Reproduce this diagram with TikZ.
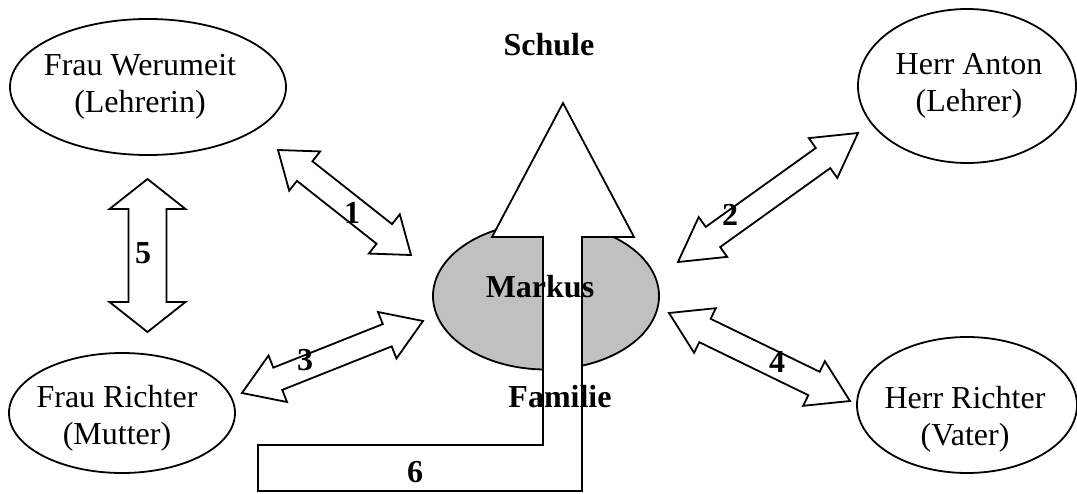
\documentclass[tikz,border=0pt]{standalone}
\usepackage{fontspec}
\setmainfont{Liberation Serif}
\usetikzlibrary{shapes.geometric,calc}

% #1 start, #2 end, #3 head length, #4 head half width, #5 shaft half width
\newcommand\dblarrow[5]{%
\draw [blockarr] (#1) -- ($(#1)!#3!(#2)!#4!90:(#2)$) -- ($(#1)!#3!(#2)!#5!90:(#2)$)
  -- ($(#2)!#3!(#1)!#5!90:(#2)$) -- ($(#2)!#3!(#1)!#4!90:(#2)$) -- (#2)
  -- ($(#2)!#3!(#1)!#4!-90:(#2)$) -- ($(#2)!#3!(#1)!#5!-90:(#2)$)
  -- ($(#1)!#3!(#2)!#5!-90:(#2)$) -- ($(#1)!#3!(#2)!#4!-90:(#2)$) -- cycle;}

\begin{document}
\begin{tikzpicture}[x=5pt,y=5pt,
  every node/.style={inner sep=0pt},
  person/.style={draw,ellipse,line width=0.9pt},
  txt/.style={align=center,font=\fontsize{16}{18.5}\selectfont},
  lbl/.style={font=\fontsize{16}{18.5}\selectfont\bfseries},
  blockarr/.style={draw,line width=0.9pt,fill=white,line join=miter}]
\useasboundingbox (0,0) rectangle (107.7,-49.3);
\node [person,minimum width=138pt,minimum height=68pt] (werumeit) at (14.8,-8.7) {};
\node [txt] (werumeit-t) at (14.0,-8.7) {Frau Werumeit\\(Lehrerin)};
\node [person,minimum width=109pt,minimum height=77pt] (anton) at (96.7,-8.6) {};
\node [txt] (anton-t) at (96.9,-8.6) {Herr Anton\\(Lehrer)};
\node [person,minimum width=113pt,minimum height=60pt] (mutter) at (12.2,-41.3) {};
\node [txt] (mutter-t) at (11.7,-41.8) {Frau Richter\\(Mutter)};
\node [person,minimum width=110pt,minimum height=68pt] (vater) at (96.7,-40.5) {};
\node [txt] (vater-t) at (96.5,-41.9) {Herr Richter\\(Vater)};
\node [person,fill={rgb,255:red,192;green,192;blue,192},minimum width=113pt,minimum height=73.5pt] (markus) at (54.6,-29.6) {};
\draw [blockarr] (49.2,-23.7) -- (56.3,-10.3) -- (63.4,-23.7) -- (58.2,-23.7) -- (58.2,-49.1)
  -- (25.8,-49.1) -- (25.8,-44.5) -- (54.3,-44.5) -- (54.3,-23.7) -- cycle;
\node [lbl] (markus-t) at (54.0,-28.7) {Markus};
\node [lbl] (schule) at (54.9,-4.5) {Schule};
\node [lbl] (familie) at (56.0,-39.7) {Familie};
\node [lbl] (l6) at (41.5,-47.2) {6};
\coordinate (a1s) at (27.8,-15.0);
\coordinate (a1e) at (41.1,-25.5);
\coordinate (a2s) at (85.8,-13.3);
\coordinate (a2e) at (67.8,-26.2);
\coordinate (a3s) at (24.2,-39.3);
\coordinate (a3e) at (42.3,-32.1);
\coordinate (a4s) at (66.9,-31.3);
\coordinate (a4e) at (85.0,-40.1);
\coordinate (a5s) at (14.75,-17.9);
\coordinate (a5e) at (14.75,-33.2);
\dblarrow{a1s}{a1e}{17pt}{12.5pt}{6.25pt}
\dblarrow{a2s}{a2e}{21.5pt}{12.25pt}{6.2pt}
\dblarrow{a3s}{a3e}{19.25pt}{12.5pt}{6pt}
\dblarrow{a4s}{a4e}{20pt}{12.4pt}{6.5pt}
\dblarrow{a5s}{a5e}{15pt}{19pt}{9.5pt}
\node [lbl] (l1) at (35.2,-21.3) {1};
\node [lbl] (l2) at (73.0,-21.5) {2};
\node [lbl] (l3) at (30.5,-36.0) {3};
\node [lbl] (l4) at (77.7,-36.2) {4};
\node [lbl] (l5) at (14.3,-25.3) {5};
\end{tikzpicture}
\end{document}
